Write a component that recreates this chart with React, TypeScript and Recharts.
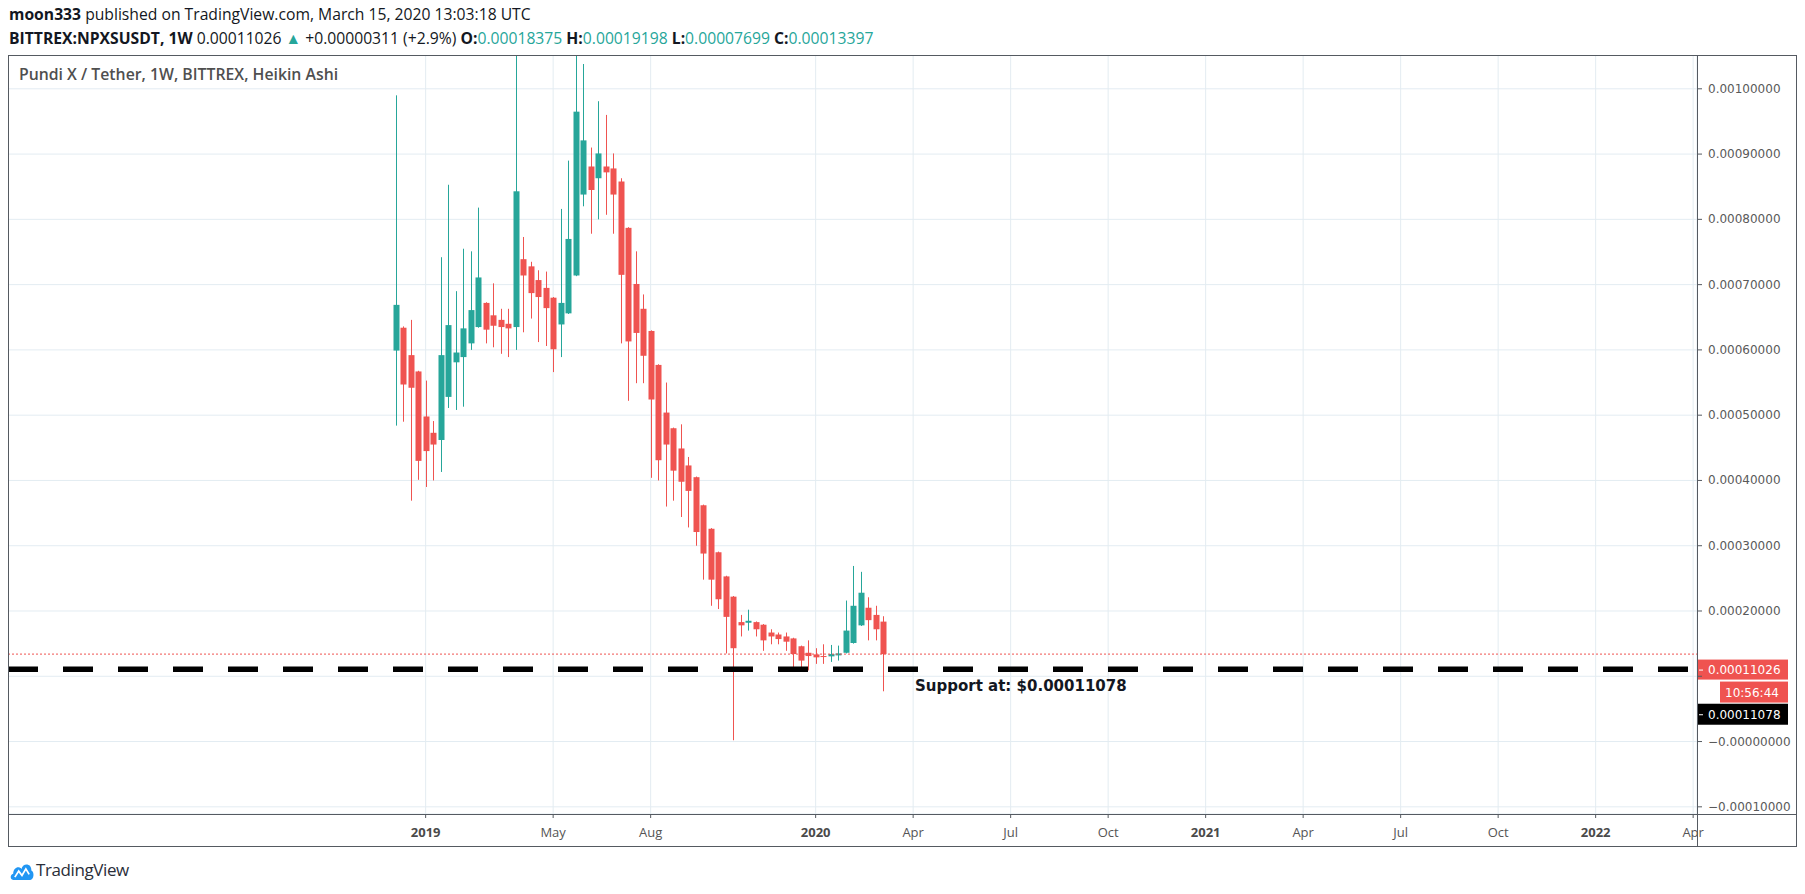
import React from 'react'
import { ComposedChart, Bar, XAxis, YAxis, CartesianGrid, ReferenceLine } from 'recharts'

// weekly Heikin Ashi candles, BITTREX:NPXSUSDT
const weeks = [
  '2018-12-10', '2018-12-17', '2018-12-24', '2018-12-31', '2019-01-07', '2019-01-14', '2019-01-21', '2019-01-28',
  '2019-02-04', '2019-02-11', '2019-02-18', '2019-02-25', '2019-03-04', '2019-03-11', '2019-03-18', '2019-03-25',
  '2019-04-01', '2019-04-08', '2019-04-15', '2019-04-22', '2019-04-29', '2019-05-06', '2019-05-13', '2019-05-20',
  '2019-05-27', '2019-06-03', '2019-06-10', '2019-06-17', '2019-06-24', '2019-07-01', '2019-07-08', '2019-07-15',
  '2019-07-22', '2019-07-29', '2019-08-05', '2019-08-12', '2019-08-19', '2019-08-26', '2019-09-02', '2019-09-09',
  '2019-09-16', '2019-09-23', '2019-09-30', '2019-10-07', '2019-10-14', '2019-10-21', '2019-10-28', '2019-11-04',
  '2019-11-11', '2019-11-18', '2019-11-25', '2019-12-02', '2019-12-09', '2019-12-16', '2019-12-23', '2019-12-30',
  '2020-01-06', '2020-01-13', '2020-01-20', '2020-01-27', '2020-02-03', '2020-02-10', '2020-02-17', '2020-02-24',
  '2020-03-02', '2020-03-09',
]

const openPrices = [
  0.000599, 0.000634, 0.000592, 0.000567, 0.000498, 0.000473, 0.000462, 0.000528, 0.000581, 0.000589, 0.00061,
  0.000635, 0.000672, 0.000653, 0.000646, 0.00064, 0.000635, 0.000739, 0.000728, 0.000707, 0.000695, 0.00068,
  0.000639, 0.000656, 0.000714, 0.000838, 0.000881, 0.000863, 0.000881, 0.000878, 0.000858, 0.000787, 0.000701,
  0.000663, 0.000629, 0.000577, 0.000504, 0.00048, 0.000449, 0.000423, 0.000405, 0.000362, 0.000326, 0.00029,
  0.000253, 0.000222, 0.000183, 0.000182, 0.000183, 0.000179, 0.000167, 0.000164, 0.000161, 0.000158, 0.000146,
  0.000136, 0.0001335, 0.000131, 0.0001305, 0.000132, 0.000136, 0.000151, 0.000178, 0.000205, 0.000194, 0.00018375,
]
const highPrices = [
  0.00099, 0.000636, 0.000646, 0.000568, 0.000553, 0.000491, 0.000742, 0.000853, 0.00069, 0.000755, 0.000751,
  0.000818, 0.000673, 0.000702, 0.000663, 0.000663, 0.00115, 0.000773, 0.000735, 0.000722, 0.00072, 0.000681,
  0.000816, 0.00089, 0.00118, 0.001038, 0.00091, 0.000981, 0.00096, 0.000901, 0.000863, 0.000788, 0.000751,
  0.000685, 0.00063, 0.000578, 0.00055, 0.000481, 0.000486, 0.000436, 0.000406, 0.000363, 0.000327, 0.000291,
  0.000254, 0.000223, 0.000194, 0.000202, 0.000184, 0.00018, 0.000172, 0.000167, 0.000167, 0.000159, 0.000147,
  0.000155, 0.000143, 0.000149, 0.000148, 0.000147, 0.000216, 0.000269, 0.00026, 0.000221, 0.000208, 0.00019198,
]
const lowPrices = [
  0.000484, 0.00049, 0.000369, 0.000401, 0.00039, 0.0004, 0.000413, 0.000511, 0.000508, 0.000513, 0.0006,
  0.000634, 0.00061, 0.000604, 0.000594, 0.000589, 0.0006, 0.000627, 0.000648, 0.000612, 0.000606, 0.000566,
  0.000589, 0.000655, 0.000713, 0.00082, 0.000778, 0.0008, 0.000807, 0.000778, 0.00061, 0.000522, 0.000549,
  0.000549, 0.000404, 0.0004, 0.00036, 0.000369, 0.000344, 0.000328, 0.0003, 0.000248, 0.000208, 0.000203,
  0.000135, 0.000002, 0.000161, 0.00017, 0.000161, 0.000139, 0.000149, 0.000149, 0.000139, 0.000112, 0.000112,
  0.000109, 0.000119, 0.000119, 0.000122, 0.000124, 0.000135, 0.00015, 0.000177, 0.000155, 0.000155, 0.00007699,
]
const closePrices = [
  0.000669, 0.000547, 0.000542, 0.00043, 0.000445, 0.000455, 0.000592, 0.000638, 0.000596, 0.000633, 0.000661,
  0.000711, 0.000631, 0.000637, 0.000635, 0.000633, 0.000843, 0.000714, 0.000687, 0.000681, 0.000664, 0.000601,
  0.000672, 0.00077, 0.000965, 0.000921, 0.000845, 0.000901, 0.000872, 0.000838, 0.000715, 0.000613, 0.000626,
  0.000591, 0.000524, 0.000431, 0.000455, 0.000415, 0.000398, 0.000384, 0.000321, 0.000288, 0.000248, 0.000218,
  0.000191, 0.000143, 0.000178, 0.000185, 0.000172, 0.000155, 0.000161, 0.000157, 0.000153, 0.000134, 0.000124,
  0.000131, 0.000129, 0.00013, 0.000134, 0.000135, 0.00017, 0.000208, 0.000228, 0.000186, 0.000172, 0.00013397,
]

// time axis (TradingView puts each label on the first weekly bar of the period)
const tickWeeks = [
  '2019-01-07', '2019-05-06', '2019-08-05', '2020-01-06', '2020-04-06', '2020-07-06', '2020-10-05',
  '2021-01-04', '2021-04-05', '2021-07-05', '2021-10-04', '2022-01-03', '2022-04-04',
]
const tickLabels = ['2019', 'May', 'Aug', '2020', 'Apr', 'Jul', 'Oct', '2021', 'Apr', 'Jul', 'Oct', '2022', 'Apr']

const priceTicks = [-0.0001, 0, 0.0001, 0.0002, 0.0003, 0.0004, 0.0005, 0.0006, 0.0007, 0.0008, 0.0009, 0.001]
const priceTickLabels = [
  '\u22120.00010000', '\u22120.00000000', '', '0.00020000', '0.00030000', '0.00040000', '0.00050000',
  '0.00060000', '0.00070000', '0.00080000', '0.00090000', '0.00100000',
]

const lastPrice = 0.00011026
const priceChange = '+0.00000311 (+2.9%)'
const supportPrice = 0.00011078
const barTimer = '10:56:44'

const GREEN = '#26a69a'
const RED = '#ef5350'
const GRID = '#e3ecf2'
const FRAME = '#555a61'

const day = (s: string) => Date.parse(s + 'T00:00:00Z') / 86400000

const data = weeks.map((w, i) => ({
  t: day(w),
  range: [lowPrices[i], highPrices[i]],
  open: openPrices[i],
  high: highPrices[i],
  low: lowPrices[i],
  close: closePrices[i],
}))

const tickDays = tickWeeks.map(day)
const xDomain = [day('2017-12-13') + 0.2, day('2022-04-07') + 0.6]
const yDomain = [-0.000111, 0.0010518]

function Candle(props: any) {
  const { x, y, width, height, payload } = props
  if (!payload) return null
  const top = Math.min(y, y + height)
  const bottom = Math.max(y, y + height)
  const { open, close, high, low } = payload
  const toY = (v: number) => bottom - ((v - low) / (high - low)) * (bottom - top)
  const cx = Math.round(x + width / 2) + 0.5
  const color = close >= open ? GREEN : RED
  const bTop = toY(Math.max(open, close))
  const bBot = toY(Math.min(open, close))
  return (
    <g>
      <line x1={cx} x2={cx} y1={top} y2={bottom} stroke={color} strokeWidth={1} />
      <rect x={cx - 3} y={bTop} width={6} height={Math.max(1, bBot - bTop)} fill={color} />
    </g>
  )
}

// draw horizontal lines left to right so the dash pattern starts at the left edge
function LeftToRight(props: any) {
  const { x1, x2, y1, y2, stroke, strokeWidth, strokeDasharray } = props
  return (
    <line
      x1={Math.min(x1, x2)}
      x2={Math.max(x1, x2)}
      y1={y1}
      y2={y2}
      stroke={stroke}
      strokeWidth={strokeWidth}
      strokeDasharray={strokeDasharray}
    />
  )
}

function TimeTick(props: any) {
  const { x, y, payload } = props
  const label = tickLabels[tickDays.indexOf(payload.value)] ?? ''
  const isYear = /^\d{4}$/.test(label)
  return (
    <text
      x={x}
      y={y + 17}
      textAnchor="middle"
      fontFamily="'Open Sans', sans-serif"
      fontSize={13}
      fontWeight={isYear ? 700 : 400}
      fill={isYear ? '#4a4a4a' : '#555'}
    >
      {label}
    </text>
  )
}

function PriceTick(props: any) {
  const { x, y, payload } = props
  const label = priceTickLabels[priceTicks.indexOf(payload.value)] ?? ''
  return (
    <text x={x} y={y + 4} textAnchor="start" fontFamily="'DejaVu Sans', sans-serif" fontSize={12} fill="#5a5a5a">
      {label}
    </text>
  )
}

function LastPriceTag(props: any) {
  const vb = props.viewBox
  if (!vb) return null
  const ax = vb.x + vb.width
  const cy = vb.y
  return (
    <g>
      <rect x={ax} y={cy - 10} width={91} height={20} fill={RED} />
      <line x1={ax + 2} x2={ax + 6} y1={cy + 0.5} y2={cy + 0.5} stroke="#fff" />
      <text x={ax + 11} y={cy + 4.5} fontFamily="'DejaVu Sans', sans-serif" fontSize={12} fill="#fff">
        {lastPrice.toFixed(8)}
      </text>
      <rect x={ax + 23} y={cy + 12} width={68} height={21} fill={RED} />
      <text x={ax + 28} y={cy + 27} fontFamily="'DejaVu Sans', sans-serif" fontSize={12} fill="#fff">
        {barTimer}
      </text>
    </g>
  )
}

function SupportTag(props: any) {
  const vb = props.viewBox
  if (!vb) return null
  const ax = vb.x + vb.width
  const cy = vb.y + 45
  return (
    <g>
      <text
        x={vb.x + 907}
        y={vb.y + 22}
        fontFamily="'DejaVu Sans', sans-serif"
        fontWeight={700}
        fontSize={15}
        fill="#131722"
      >
        Support at: ${supportPrice.toFixed(8)}
      </text>
      <rect x={ax} y={cy - 10.5} width={91} height={21} fill="#000" />
      <line x1={ax + 2} x2={ax + 6} y1={cy + 0.5} y2={cy + 0.5} stroke="#fff" />
      <text x={ax + 11} y={cy + 4.5} fontFamily="'DejaVu Sans', sans-serif" fontSize={12} fill="#fff">
        {supportPrice.toFixed(8)}
      </text>
    </g>
  )
}

function Logo() {
  return (
    <svg width={26} height={22} viewBox="0 0 22 20" style={{ verticalAlign: 'middle' }}>
      <path
        d="M3 19 C0 19 0 14 3 13.5 C3 8 8 6 10.5 9 C12 3 20 4 19.5 10.5 C22.5 11.5 22 19 18.5 19 Z"
        fill="#2196f3"
      />
      <polyline points="4.5,16.5 8,11 11,15 14.5,9 17.5,14" fill="none" stroke="#fff" strokeWidth={1.6} />
    </svg>
  )
}

export default function App() {
  const last = data[data.length - 1]
  const teal = { color: GREEN }
  return (
    <div
      style={{
        position: 'relative',
        width: 1789,
        height: 878,
        fontFamily: "'Open Sans', sans-serif",
        color: '#131722',
      }}
    >
      <div style={{ position: 'absolute', left: 1, top: -2, fontSize: 15.7, lineHeight: '16px', whiteSpace: 'nowrap' }}>
        <b>moon333</b> published on TradingView.com, March 15, 2020 13:03:18 UTC
      </div>
      <div style={{ position: 'absolute', left: 1, top: 22, fontSize: 15.7, lineHeight: '16px', whiteSpace: 'nowrap' }}>
        <b>BITTREX:NPXSUSDT, 1W</b> {lastPrice.toFixed(8)} <span style={teal}>{'\u25B2'}</span> {priceChange}{' '}
        <b>O:</b>
        <span style={teal}>{last.open.toFixed(8)}</span> <b>H:</b>
        <span style={teal}>{last.high.toFixed(8)}</span> <b>L:</b>
        <span style={teal}>{last.low.toFixed(8)}</span> <b>C:</b>
        <span style={teal}>{last.close.toFixed(8)}</span>
      </div>

      <div style={{ position: 'absolute', left: 0, top: 47 }}>
        <ComposedChart width={1789} height={792} data={data} margin={{ top: 0, right: 0, bottom: 0, left: 0 }}>
          <CartesianGrid stroke={GRID} />
          <XAxis
            type="number"
            dataKey="t"
            domain={xDomain}
            allowDataOverflow
            ticks={tickDays}
            interval={0}
            height={33}
            axisLine={false}
            tickLine={{ stroke: FRAME }}
            tickSize={4}
            tick={<TimeTick />}
          />
          <YAxis
            orientation="right"
            domain={yDomain}
            allowDataOverflow
            ticks={priceTicks}
            interval={0}
            width={100}
            axisLine={false}
            tickLine={{ stroke: FRAME }}
            tickSize={5}
            tickMargin={6}
            tick={<PriceTick />}
          />
          <Bar dataKey="range" barSize={6} shape={<Candle />} isAnimationActive={false} />
          <ReferenceLine
            y={last.close}
            stroke={RED}
            strokeWidth={1}
            strokeDasharray="2 2"
            shape={(p: any) => <LeftToRight {...p} />}
          />
          <ReferenceLine
            y={supportPrice}
            stroke="#000"
            strokeWidth={5.5}
            strokeDasharray="30 25"
            shape={(p: any) => <LeftToRight {...p} />}
            label={<SupportTag />}
          />
          <ReferenceLine y={lastPrice} stroke="none" label={<LastPriceTag />} />
        </ComposedChart>
      </div>

      <div
        style={{
          position: 'absolute',
          left: 0,
          top: 47,
          width: 1789,
          height: 792,
          border: `1px solid ${FRAME}`,
          boxSizing: 'border-box',
          pointerEvents: 'none',
        }}
      />
      <div style={{ position: 'absolute', left: 1689, top: 47, width: 1, height: 792, background: FRAME }} />
      <div style={{ position: 'absolute', left: 0, top: 806, width: 1789, height: 1, background: FRAME }} />

      <div
        style={{
          position: 'absolute',
          left: 11,
          top: 56,
          fontSize: 15.8,
          fontWeight: 600,
          lineHeight: '20px',
          color: '#4f4f4f',
          whiteSpace: 'nowrap',
        }}
      >
        Pundi X / Tether, 1W, BITTREX, Heikin Ashi
      </div>

      <div
        style={{
          position: 'absolute',
          left: 1,
          top: 851,
          fontSize: 17,
          lineHeight: '22px',
          whiteSpace: 'nowrap',
          display: 'flex',
          alignItems: 'center',
          gap: 1,
        }}
      >
        <Logo />
        <span style={{ letterSpacing: -0.4, color: '#2a2e39' }}>TradingView</span>
      </div>
    </div>
  )
}
